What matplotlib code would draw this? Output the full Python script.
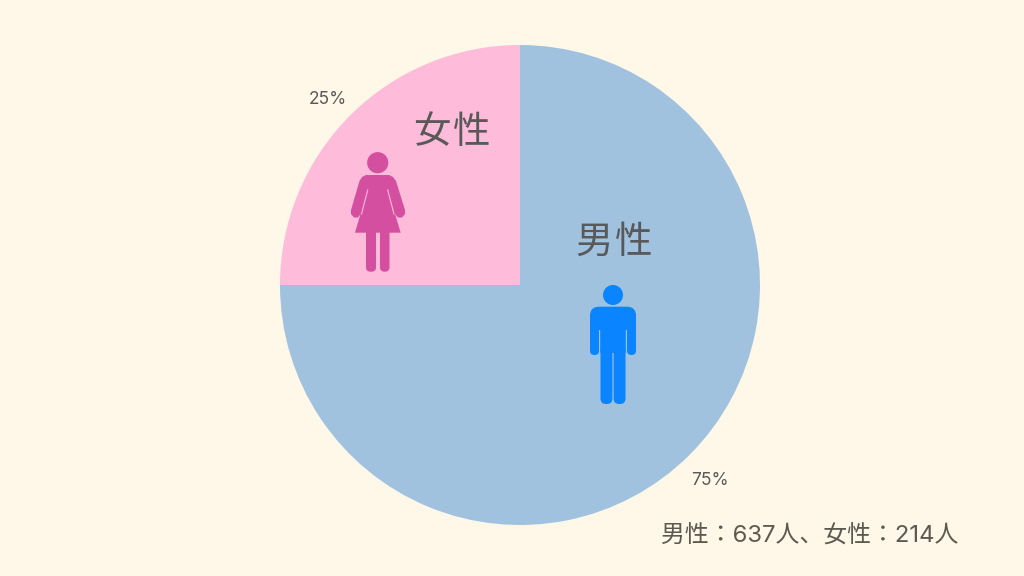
import matplotlib
matplotlib.use("Agg")
import matplotlib.pyplot as plt
from matplotlib.patches import Circle, FancyBboxPatch, Polygon

# digits and % look wider than the CJK font's own, so take them from Inter
plt.rcParams['font.family'] = ['Inter', 'Noto Sans CJK JP', 'DejaVu Sans']

########################## data #####################################
groups = ["女性", "男性"]
shares = [25, 75]
share_labels = ["25%", "75%"]
counts_text = "男性：637人、女性：214人"

########################## colours ##################################
bg = "#FFF8E8"
slice_colors = ["#FFBBDA", "#A0C2DE"]
woman_color = "#D54FA0"
man_color = "#0A84FF"
text_color = "#595959"

W, H = 1024, 576

fig = plt.figure(figsize=(W / 100, H / 100), dpi=100, facecolor=bg)
ax = fig.add_axes([0, 0, 1, 1])


def py(y):
    # picture coordinates (y down) to axes coordinates
    return H - y


def rrect(x0, y0, x1, y1, r, color):
    ax.add_patch(FancyBboxPatch((x0 + r, py(y1) + r), x1 - x0 - 2 * r, y1 - y0 - 2 * r,
                                boxstyle=f"round,pad={r},rounding_size={r}",
                                fc=color, ec="none", zorder=3))


wedges, texts = ax.pie(shares, colors=slice_colors, startangle=90, counterclock=True,
                       center=(520, py(285)), radius=240, labels=share_labels,
                       labeldistance=1.125, wedgeprops=dict(linewidth=0),
                       textprops=dict(fontsize=12.5, color=text_color))
for t in texts:
    t.set_ha("center")
    t.set_va("center")
    x, y = t.get_position()
    t.set_position((x - 1, y - 5))

ax.set_xlim(0, W)
ax.set_ylim(0, H)
ax.set_aspect("equal")
ax.axis("off")

########################## woman icon ###############################
ax.add_patch(Circle((377.7, py(162.7)), 10.6, fc=woman_color, ec="none", zorder=3))
body = [(366, 175), (389, 175), (393, 177), (396, 181), (405, 210), (405, 214), (402, 217.5),
        (398, 217.5), (395, 214), (400.7, 232.7), (355, 232.7), (360.5, 214), (358, 217.5), (354, 217.5),
        (351, 214), (351, 210), (359.5, 181), (362, 177)]
ax.add_patch(Polygon([(x, py(y)) for x, y in body], closed=True, fc=woman_color, ec="none", zorder=3))
ax.plot([367.7, 361.5], [py(190), py(214)], color=slice_colors[0], lw=0.8, zorder=4)
ax.plot([387.7, 394], [py(190), py(214)], color=slice_colors[0], lw=0.8, zorder=4)
rrect(366, 225, 376, 271.7, 4.5, woman_color)
rrect(380, 225, 389.5, 271.7, 4.5, woman_color)

########################## man icon #################################
ax.add_patch(Circle((613, py(295)), 10, fc=man_color, ec="none", zorder=3))
rrect(590, 306.7, 636, 330, 9, man_color)
rrect(590, 312, 599, 355, 4.4, man_color)
rrect(627, 312, 636, 355, 4.4, man_color)
rrect(600.2, 315, 625.8, 353, 1, man_color)
rrect(600.5, 345, 612.4, 404, 5.5, man_color)
rrect(613.6, 345, 625.5, 404, 5.5, man_color)

########################## text #####################################
# the two characters of each heading are spaced wider than the font does
heading_pos = {"女性": (432, 472, 133), "男性": (594, 634, 243)}
for name in groups:
    x0, x1, y = heading_pos[name]
    for ch, x in zip(name, (x0, x1)):
        ax.text(x, py(y), ch, fontsize=27, color=text_color, ha="center", va="center", zorder=5)

ax.text(809.5, py(536), counts_text, fontsize=17.2, color="#5C5A50", ha="center", va="center", zorder=5)

fig.savefig("out.png", dpi=100, facecolor=bg)
